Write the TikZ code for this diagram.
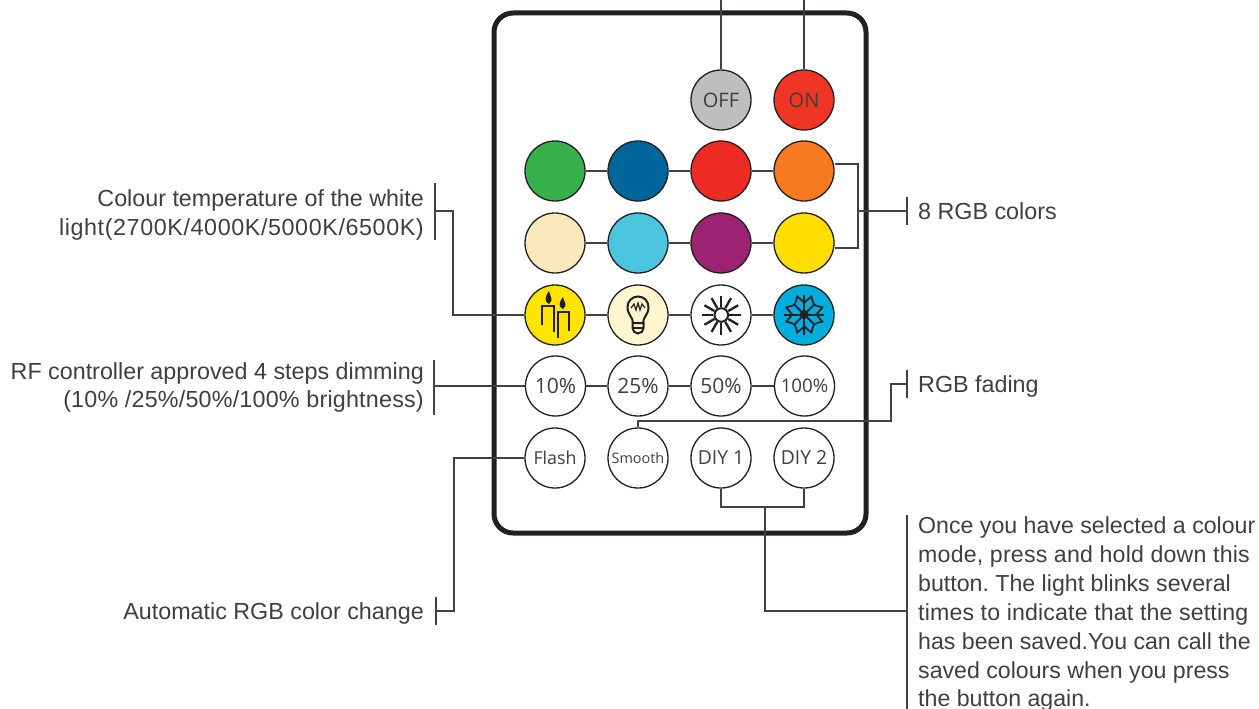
\documentclass[tikz,border=0pt]{standalone}
\usepackage{fontspec}
\setmainfont{Liberation Sans}
\newfontfamily\btnfont{Open Sans}
\definecolor{ink}{HTML}{231F20}
\definecolor{txt}{HTML}{3F3F41}
\definecolor{lineg}{HTML}{414042}
\newcommand{\sprd}[1]{\addfontfeature{LetterSpace=#1}}
\tikzset{
  btn/.style={circle,draw=ink,line width=1.3pt,minimum size=60pt,inner sep=0pt,font=\btnfont\fontsize{20}{20}\selectfont,text=txt},
  conn/.style={draw=lineg,line width=1.2pt},
  icon/.style={draw=ink,line width=2pt,line cap=butt},
  lab/.style={inner sep=0pt,font=\fontsize{23.3}{29}\selectfont,text=txt},
  para/.style={inner sep=0pt,font=\fontsize{23.15}{29}\selectfont,text=txt,anchor=base west,align=left},
  labl/.style={lab,anchor=base west,align=left},
  labr/.style={lab,anchor=base east,align=right}
}
\frenchspacing
\begin{document}
\begin{tikzpicture}[x=1pt,y=-1pt]
\useasboundingbox (0,0) rectangle (1259,709);
\draw[draw=ink,line width=5pt,rounded corners=19pt] (494,13) rectangle (866,533);
% buttons
\node[btn,fill={rgb,255:red,188;green,190;blue,192}] (off) at (721,100) {OFF};
\node[btn,fill={rgb,255:red,239;green,54;blue,36}] (on) at (804,100) {ON};
\node[btn,fill={rgb,255:red,54;green,176;blue,74}] (c1) at (555,171) {};
\node[btn,fill={rgb,255:red,0;green,101;blue,155}] (c2) at (638,171) {};
\node[btn,fill={rgb,255:red,238;green,42;blue,36}] (c3) at (721,171) {};
\node[btn,fill={rgb,255:red,247;green,121;blue,32}] (c4) at (804,171) {};
\node[btn,fill={rgb,255:red,249;green,232;blue,187}] (c5) at (555,243) {};
\node[btn,fill={rgb,255:red,75;green,197;blue,222}] (c6) at (638,243) {};
\node[btn,fill={rgb,255:red,155;green,35;blue,113}] (c7) at (721,243) {};
\node[btn,fill={rgb,255:red,255;green,222;blue,0}] (c8) at (804,243) {};
\node[btn,fill={rgb,255:red,255;green,228;blue,0}] (w1) at (555,315) {};
\node[btn,fill={rgb,255:red,255;green,246;blue,207}] (w2) at (638,315) {};
\node[btn,fill=white] (w3) at (721,315) {};
\node[btn,fill={rgb,255:red,0;green,174;blue,222}] (w4) at (804,315) {};
\node[btn,font=\btnfont\fontsize{21}{21}\selectfont] (d1) at (555.5,386) {10\%};
\node[btn,font=\btnfont\fontsize{21}{21}\selectfont] (d2) at (638,386) {25\%};
\node[btn,font=\btnfont\fontsize{21}{21}\selectfont] (d3) at (721,386) {50\%};
\node[btn,font=\btnfont\fontsize{18.7}{18}\selectfont] (d4) at (804.5,386) {100\%};
\node[btn,font=\btnfont\fontsize{17.8}{18}\selectfont] (flash) at (555,458) {Flash};
\node[btn,font=\btnfont\fontsize{14.4}{15}\selectfont] (smooth) at (638,458) {Smooth};
\node[btn,font=\btnfont\fontsize{19.3}{20}\selectfont] (diy1) at (721,458) {DIY 1};
\node[btn,font=\btnfont\fontsize{19.3}{20}\selectfont] (diy2) at (804,458) {DIY 2};
% chains
\foreach \a/\b in {c1/c2,c2/c3,c3/c4,c5/c6,c6/c7,c7/c8,w1/w2,w2/w3,w3/w4,d1/d2,d2/d3,d3/d4}
  \draw[conn] (\a) -- (\b);
% free ends
\coordinate (topoff) at (721,0);
\coordinate (topon) at (804,0);
\coordinate (a8) at (907,211);
\coordinate (afade) at (907,384);
\coordinate (adiy) at (907,611);
\coordinate (atemp) at (435,211);
\coordinate (arf) at (434,386);
\coordinate (aauto) at (436,611);
\draw[conn] (topoff) -- (off);
\draw[conn] (topon) -- (on);
% 8 RGB
\draw[conn] (c4.east |- 0,164) -- (858,164) -- (858,248) -- (c8.east |- 0,248);
\draw[conn] (858,211) -- (a8);
\draw[conn] (907,197) -- (907,225);
% colour temp
\draw[conn] (atemp) -- (453,211) |- (w1.west);
\draw[conn] (435,183) -- (435,240);
% RF
\draw[conn] (arf) -- (d1.west);
\draw[conn] (434,360) -- (434,415);
% Auto
\draw[conn] (aauto) -- (454,611) |- (flash.west);
\draw[conn] (436,597) -- (436,625);
% fading
\draw[conn] (smooth.north) -- (638,421) -- (891,421) -- (891,384) -- (afade);
\draw[conn] (907,370) -- (907,398);
% DIY
\draw[conn] (diy1.south) -- (721,507) -- (804,507) -- (diy2.south);
\draw[conn] (765,507) -- (765,611) -- (adiy);
\draw[conn] (907,515) -- (907,709);
% candles icon
\begin{scope}[shift={(555,315)}]
\draw[icon] (-13,10) -- (-13,-9) -- (-1,-9) -- (-1,17);
\draw[icon] (3,23) -- (3,-3) -- (14,-3) -- (14,16);
\fill[ink] (-6,-11) .. controls (-11,-13) and (-10,-19) .. (-6,-24) .. controls (-5,-19) and (-1,-15) .. (-6,-11) -- cycle;
\fill[ink] (8,-6) .. controls (3,-8) and (4,-13) .. (8,-18) .. controls (9,-13) and (13,-10) .. (8,-6) -- cycle;
\end{scope}
% bulb icon
\begin{scope}[shift={(638,315)}]
\draw[icon] (-5,8) .. controls (-5,2) and (-10.5,0) .. (-10.5,-8) arc[start angle=180,end angle=360,radius=10.5] .. controls (10.5,0) and (5,2) .. (5,8);
\draw[icon,line width=1.2pt] (-7,-7) -- (-4,-11) -- (-2,-5) -- (0,-12) -- (2,-5) -- (4,-11) -- (7,-7);
\draw[icon] (-5.5,8) -- (-5.5,13) arc[start angle=180,end angle=0,radius=5.5] -- (5.5,8) -- cycle;
\draw[icon] (-5.5,13) -- (5.5,13);
\end{scope}
% sun icon
\begin{scope}[shift={(721.3,315)}]
\foreach \t in {0,30,...,330}
  \draw[icon,line width=2.3pt] (\t:8) -- (\t:19.5);
\draw[icon] (0,0) circle (6.8);
\end{scope}
% snow icon
\begin{scope}[shift={(804.3,314.5)}]
\foreach \t in {0,90,180,270}{
  \begin{scope}[rotate=\t]
  \draw[icon] (0,0) -- (20,0);
  \draw[icon,line width=1.7pt] (12,0) -- (18,-7);
  \draw[icon,line width=1.7pt] (12,0) -- (18,7);
  \draw[icon] (0,0) -- (10,10);
  \draw[icon,line width=1.7pt] (19,7) .. controls (14,8) and (11,9) .. (10,10) .. controls (9,11) and (8,14) .. (7,19);
  \end{scope}}
\fill[ink] (0,0) circle (4.5);
\end{scope}
% labels
\node[labr] (t1) at (424,206) {Colour temperature of the white};
\node[labr] (t2) at (424,235) {\sprd{2.6}light(2700K/4000K/5000K/6500K)};
\node[labr] (t3) at (424,379) {RF controller approved 4 steps dimming};
\node[labr] (t4) at (424,407) {\sprd{0.9}(10\% /25\%/50\%/100\% brightness)};
\node[labr] (t5) at (424,619) {Automatic RGB color change};
\node[labl] (t6) at (918,219) {8 RGB colors};
\node[labl] (t7) at (918,392) {RGB fading};
\node[para] (l1) at (918,533) {Once you have selected a colour};
\node[para] (l2) at (918,562) {\sprd{0.86}mode, press and hold down this};
\node[para] (l3) at (918,591) {button. The light blinks several};
\node[para] (l4) at (918,620) {\sprd{0.7}times to indicate that the setting};
\node[para] (l5) at (918,649) {has been saved.You can call the};
\node[para] (l6) at (918,678) {saved colours when you press};
\node[para] (l7) at (918,706) {the button again.};
\end{tikzpicture}
\end{document}
